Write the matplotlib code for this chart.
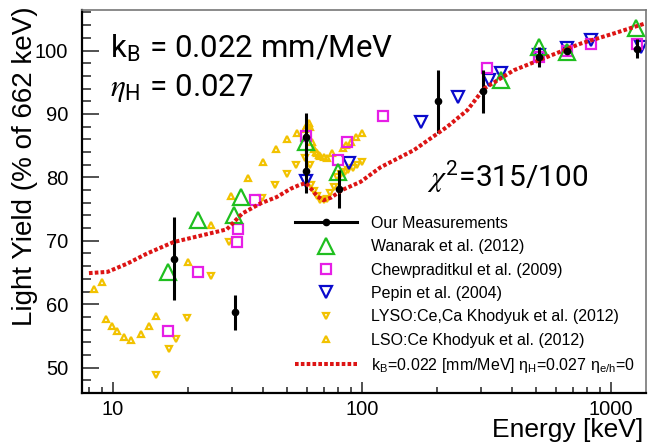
import numpy as np
import matplotlib
matplotlib.use('Agg')
import matplotlib.pyplot as plt
from matplotlib.ticker import MultipleLocator, LogLocator, NullFormatter
from matplotlib.lines import Line2D

plt.rcParams['font.family'] = ['Liberation Sans', 'DejaVu Sans']
plt.rcParams['mathtext.fontset'] = 'custom'
plt.rcParams['mathtext.rm'] = 'Roboto'
plt.rcParams['mathtext.it'] = 'STIXGeneral:italic'
plt.rcParams['mathtext.sf'] = 'Liberation Sans'

# Our measurements (energy in keV, light yield in % of 662 keV)
meas_e = [17.6, 31.0, 59.5, 59.5, 80.8, 201.5, 305.5, 511, 662, 1274]
meas_ly = [67.2, 58.7, 86.4, 81.0, 78.1, 92.0, 93.6, 99.0, 100.0, 100.3]
meas_err = [6.6, 2.8, 3.8, 3.5, 3.0, 5.0, 3.4, 1.6, 0.5, 1.5]

# Wanarak et al. (2012)
wan_e = [16.6, 22.0, 30.5, 32.7, 59.5, 80.0, 360, 511, 662, 1254]
wan_ly = [65.1, 73.2, 74.0, 76.9, 85.6, 80.8, 95.3, 100.6, 99.8, 103.5]

# Chewpraditkul et al. (2009)
chew_e = [16.6, 21.9, 31.3, 31.7, 37.0, 59.3, 80.0, 86.7, 121, 318, 511, 662, 828, 1274]
chew_ly = [55.7, 65.1, 69.8, 71.8, 76.5, 86.5, 82.7, 85.5, 89.7, 97.2, 99.0, 100.0, 101.1, 101.0]

# Pepin et al. (2004)
pep_e = [59.3, 88.5, 171.8, 242.8, 323, 362, 511, 662, 828, 1313]
pep_ly = [79.4, 82.2, 88.8, 92.7, 95.3, 96.4, 99.3, 100.4, 101.7, 100.6]

# LYSO:Ce,Ca Khodyuk et al. (2012)
lyso_e = [14.9, 16.7, 17.9, 19.8, 24.8, 29.2, 39.8, 44.8, 50.1, 54.4, 59.0, 61.5,
          62.5, 64, 66, 68, 70, 72, 74.5, 77, 79.3, 82, 85, 88, 91.9, 95, 100]
lyso_ly = [48.9, 53.0, 54.5, 57.9, 64.5, 69.8, 76.7, 78.8, 80.6, 81.9, 83.0, 81.9,
           78.8, 77.8, 77.0, 76.5, 76.4, 76.6, 77.5, 78.5, 80.0, 80.6, 80.9, 81.2, 81.5, 82.0, 82.4]

# LSO:Ce Khodyuk et al. (2012)
lso_e = [8.4, 9.0, 9.4, 9.86, 10.4, 11.1, 11.85, 13.0, 14.0, 14.9, 19.9, 24.7, 29.8,
         34.8, 40.0, 45.2, 50.1, 55.0, 59, 60, 61, 62, 63, 64, 65, 66, 67, 68, 70,
         72, 75.5, 83.4, 86.2, 90.0, 94.3, 100]
lso_ly = [62.4, 63.5, 57.6, 56.6, 55.8, 54.9, 54.3, 55.3, 56.5, 58.1, 66.6, 72.5, 77.0,
          79.9, 82.5, 84.4, 86.1, 87.0, 87.6, 88.2, 88.6, 88.0, 85.5, 84.5, 84.0, 83.8,
          83.6, 83.4, 83.2, 83.0, 83.8, 84.7, 85.1, 85.6, 86.4, 87.0]

# Birks + Onsager model curve
model_e = [8.0, 9.5, 11.4, 13.7, 17.5, 22.4, 28.6, 33.0, 39.1, 45.4, 51.6, 56, 59.5,
           63, 66, 70, 75, 83, 98.6, 118.6, 161.4, 219.8, 264.5, 308.5, 407, 554,
           754, 1026, 1376]
model_ly = [64.9, 65.1, 66.4, 68.0, 69.8, 70.8, 71.8, 74.3, 75.9, 76.9, 78.2, 78.8, 79.1,
            78.0, 77.0, 76.4, 76.8, 78.0, 79.3, 81.6, 84.3, 88.0, 90.6, 94.0, 96.9,
            99.0, 101.1, 102.7, 104.3]

xtick_vals = [10, 100, 1000]
xtick_labels = ['10', '100', '1000']

green = '#1fbf1f'
magenta = '#e61ee6'
blue = '#0a0acc'
gold = '#f2c200'
red = '#dd1414'

fig = plt.figure(figsize=(6.48, 4.48), dpi=100)
ax = fig.add_axes([0.1265, 0.1228, 0.8705, 0.855])

ax.plot(lyso_e, lyso_ly, 'v', ls='none', ms=4.8, mfc='none', mec=gold, mew=1.6)
ax.plot(lso_e, lso_ly, '^', ls='none', ms=4.8, mfc='none', mec=gold, mew=1.6)
ax.plot(pep_e, pep_ly, 'v', ls='none', ms=8, mfc='none', mec=blue, mew=1.6)
ax.plot(chew_e, chew_ly, 's', ls='none', ms=7.5, mfc='none', mec=magenta, mew=1.6)
ax.plot(wan_e, wan_ly, '^', ls='none', ms=11, mfc='none', mec=green, mew=1.6)
ax.errorbar(meas_e, meas_ly, yerr=meas_err, fmt='o', color='k', ms=4.5,
            elinewidth=2.2, capsize=0)
ax.plot(model_e, model_ly, color=red, lw=2.9, ls=(0, (0.9, 0.55)),
        dash_capstyle='butt')

ax.set_xscale('log')
ax.set_xlim(7.5, 1380)
ax.set_ylim(46.0, 106.4)
ax.set_xticks(xtick_vals, labels=xtick_labels)
ax.xaxis.set_minor_locator(LogLocator(base=10, subs=np.arange(2, 10)))
ax.xaxis.set_minor_formatter(NullFormatter())
ax.yaxis.set_major_locator(MultipleLocator(10))
ax.yaxis.set_minor_locator(MultipleLocator(2))

ax.tick_params(which='both', direction='in', top=False, right=False,
               labelsize=14.5, width=1.1, color='#222222')
ax.tick_params(axis='x', which='major', length=8, pad=5)
ax.tick_params(axis='x', which='minor', length=4.5)
ax.tick_params(axis='y', which='major', length=12, pad=10)
ax.tick_params(axis='y', which='minor', length=6.5)

for side in ['left', 'bottom']:
    ax.spines[side].set_linewidth(1.6)
for side in ['top', 'right']:
    ax.spines[side].set_linewidth(1.2)
    ax.spines[side].set_color('#777777')

ax.set_ylabel('Light Yield (% of 662 keV)', fontsize=20)
ax.yaxis.set_label_coords(-0.078, 0.593)
ax.set_xlabel('Energy [keV]', fontsize=19, loc='right')
ax.xaxis.set_label_coords(0.995, -0.066)

ax.annotate(r'k$_\mathrm{B}$ = 0.022 mm/MeV', xy=(110 / 648, 1 - 58 / 448),
            xycoords='figure fraction', fontsize=22.5, family='Roboto')
ax.annotate(r'$\eta_\mathrm{H}$ = 0.027', xy=(110 / 648, 1 - 96 / 448),
            xycoords='figure fraction', fontsize=22.5, family='Roboto')
ax.annotate(r'$\chi^\mathrm{2}$=315/100', xy=(427 / 648, 1 - 187 / 448),
            xycoords='figure fraction', fontsize=21.5, family='Roboto')

handles = [
    Line2D([], [], color='k', marker='o', ms=4.5, lw=2.2),
    Line2D([], [], ls='none', marker='^', ms=11, mfc='none', mec=green, mew=1.6),
    Line2D([], [], ls='none', marker='s', ms=7.5, mfc='none', mec=magenta, mew=1.6),
    Line2D([], [], ls='none', marker='v', ms=8, mfc='none', mec=blue, mew=1.6),
    Line2D([], [], ls='none', marker='v', ms=4.8, mfc='none', mec=gold, mew=1.6),
    Line2D([], [], ls='none', marker='^', ms=4.8, mfc='none', mec=gold, mew=1.6),
    Line2D([], [], color=red, lw=2.9, ls=(0, (0.9, 0.55)), dash_capstyle='butt'),
]
labels = [
    'Our Measurements',
    'Wanarak et al. (2012)',
    'Chewpraditkul et al. (2009)',
    'Pepin et al. (2004)',
    'LYSO:Ce,Ca Khodyuk et al. (2012)',
    'LSO:Ce Khodyuk et al. (2012)',
    r'k$_\mathsf{B}$=0.022 [mm/MeV] $\mathsf{\eta_{H}}$=0.027 $\mathsf{\eta_{e/h}}$=0',
]
ax.legend(handles, labels, loc='upper left', bbox_to_anchor=(0.378, 0.462),
          frameon=False, fontsize=11.5, handlelength=3.9, handletextpad=0.85,
          labelspacing=0.52, borderpad=0, borderaxespad=0, numpoints=1)

fig.savefig('out.png', dpi=100)
